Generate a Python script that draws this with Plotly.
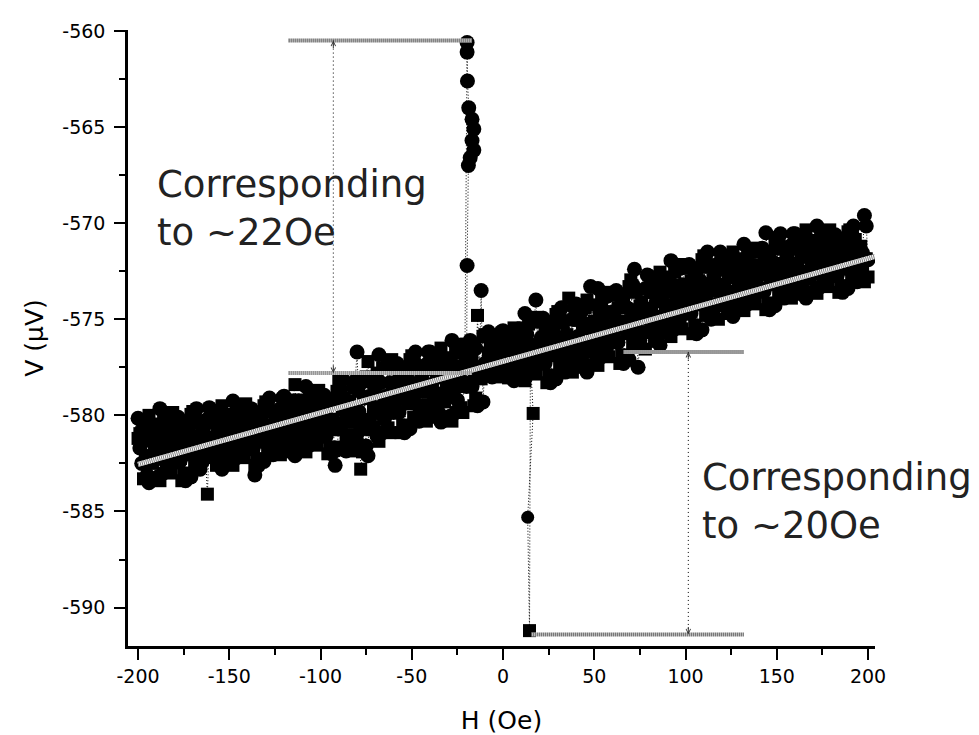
import numpy as np
import plotly.graph_objects as go

# ---------------- data ----------------
# field set points (Oe): even fields and odd fields of each sweep
H_EVEN = np.arange(-200, 201, 2)
H_ODD = np.arange(-199, 200, 2)

# sweep A (circles), readings at even fields (uV)
V_A = [
    -580.15, -582.5, -581.3, -583.5, -580.7,
    -582.0, -579.65, -583.0, -581.4, -580.85,
    -582.45, -580.1, -581.7, -583.4, -580.9,
    -581.9, -579.65, -582.8, -581.3, -580.2,
    -579.7, -581.9, -580.8, -582.8, -580.25,
    -581.35, -579.25, -582.2, -580.85, -580.3,
    -581.75, -579.65, -583.1, -582.6, -580.35,
    -581.2, -579.1, -582.05, -580.7, -579.65,
    -579.0, -581.2, -580.1, -582.1, -579.55,
    -580.65, -578.5, -581.55, -580.1, -579.6,
    -581.1, -578.95, -580.4, -582.0, -582.6,
    -580.65, -578.1, -581.85, -579.95, -578.55,
    -576.7, -580.75, -579.1, -582.1, -578.3,
    -579.7, -576.85, -580.9, -579.0, -578.3,
    -579.85, -577.3, -579.0, -580.9, -578.15,
    -579.25, -576.7, -580.3, -578.6, -577.35,
    -576.7, -579.3, -578.0, -580.35, -577.35,
    -578.75, -576.1, -579.85, -578.1, -577.4,
    -578.5, -576.1, -577.7, -579.5, -573.5,
    -577.3, -575.65, -578.0, -576.9, -576.05,
    -575.6, -577.45, -576.5, -578.2, -576.05,
    -576.9, -574.7, -577.85, -576.35, -574.0,
    -577.3, -574.95, -576.5, -578.3, -575.75,
    -576.75, -574.4, -577.75, -576.2, -575.0,
    -574.2, -576.7, -575.45, -577.75, -573.3,
    -575.9, -573.4, -576.95, -575.3, -574.65,
    -576.2, -573.5, -575.3, -577.3, -574.4,
    -575.4, -572.4, -577.5, -574.75, -573.4,
    -572.75, -575.3, -574.05, -576.35, -573.4,
    -574.4, -571.95, -575.5, -573.8, -573.2,
    -574.7, -572.15, -573.85, -575.75, -573.0,
    -573.95, -571.5, -575.0, -573.35, -572.1,
    -571.7, -573.95, -572.8, -574.85, -572.25,
    -573.3, -571.1, -574.2, -572.75, -572.2,
    -573.55, -571.3, -570.5, -574.5, -572.05,
    -572.9, -570.55, -573.9, -572.3, -571.15,
    -570.55, -572.9, -571.75, -573.9, -571.15,
    -572.4, -570.15, -573.3, -571.8, -571.25,
    -572.7, -570.6, -572.0, -573.6, -571.35,
    -572.2, -570.15, -573.05, -571.7, -569.6,
    -571.9,
]

# sweep A (circles), readings at odd fields (uV)
V_C = [
    -581.7, -580.5, -583.1, -581.1, -582.3,
    -583.2, -580.8, -582.4, -580.05, -581.6,
    -581.1, -582.4, -580.5, -581.9, -583.2,
    -580.0, -581.5, -582.45, -581.1, -579.6,
    -581.15, -580.05, -582.4, -580.6, -581.7,
    -582.4, -580.3, -581.7, -579.6, -581.0,
    -580.5, -581.75, -580.0, -581.2, -582.4,
    -579.5, -580.85, -581.7, -580.5, -579.1,
    -580.45, -579.4, -581.7, -579.9, -581.0,
    -581.75, -579.6, -581.0, -578.85, -580.3,
    -579.85, -581.1, -579.3, -580.55, -581.8,
    -578.65, -580.35, -581.45, -579.95, -578.2,
    -579.8, -578.25, -581.6, -579.0, -580.6,
    -581.1, -578.3, -580.2, -577.3, -579.2,
    -578.35, -579.85, -577.7, -579.2, -580.7,
    -577.15, -578.8, -579.85, -578.4, -576.7,
    -578.4, -577.15, -579.9, -577.8, -579.05,
    -580.05, -577.4, -579.2, -576.55, -578.3,
    -577.1, -578.5, -576.5, -577.9, -579.3,
    -575.9, -577.05, -577.75, -576.75, -575.65,
    -576.8, -575.9, -577.9, -576.4, -577.3,
    -578.05, -575.8, -577.3, -575.05, -576.55,
    -575.95, -577.3, -575.35, -576.7, -578.1,
    -574.8, -576.4, -577.35, -576.0, -574.4,
    -575.9, -574.6, -577.35, -575.25, -576.5,
    -577.2, -574.65, -576.35, -573.8, -575.5,
    -574.6, -576.2, -574.0, -575.5, -577.1,
    -573.2, -575.0, -576.1, -574.5, -572.7,
    -574.45, -573.2, -575.9, -573.8, -575.1,
    -575.7, -573.2, -574.9, -572.35, -574.0,
    -573.2, -574.7, -572.55, -574.05, -575.55,
    -571.9, -573.55, -574.6, -573.15, -571.5,
    -573.2, -572.05, -574.5, -572.6, -573.75,
    -574.4, -572.2, -573.65, -571.45, -572.9,
    -572.25, -573.55, -571.7, -573.0, -574.3,
    -570.95, -572.5, -573.5, -572.1, -570.55,
    -572.1, -570.95, -573.5, -571.5, -572.7,
    -573.5, -571.25, -572.75, -570.5, -572.0,
    -571.5, -572.75, -571.0, -572.2, -573.4,
    -570.5, -571.9, -572.7, -571.55, -570.15,
]

# sweep B (squares), readings at even fields (uV)
V_B = [
    -581.2, -580.9, -582.1, -580.0, -582.5,
    -581.2, -583.4, -580.25, -581.8, -583.0,
    -580.3, -581.5, -583.4, -580.5, -582.05,
    -579.8, -581.15, -582.3, -580.75, -584.1,
    -582.2, -580.4, -581.5, -579.5, -581.9,
    -580.65, -582.6, -579.8, -581.2, -582.2,
    -579.85, -580.9, -582.6, -580.0, -581.4,
    -579.3, -580.5, -581.55, -580.15, -582.05,
    -581.5, -579.75, -580.8, -578.4, -581.2,
    -579.95, -581.9, -579.05, -580.5, -581.55,
    -579.1, -580.2, -582.0, -579.3, -580.75,
    -578.2, -579.7, -581.1, -579.25, -581.85,
    -581.3, -582.8, -580.2, -577.2, -580.75,
    -578.75, -581.35, -577.55, -579.45, -580.9,
    -577.5, -578.8, -580.9, -577.7, -579.4,
    -576.9, -578.4, -579.65, -577.95, -580.3,
    -579.7, -577.6, -578.85, -576.5, -579.3,
    -577.85, -580.3, -576.75, -578.5, -579.85,
    -576.3, -577.5, -579.5, -574.8, -578.1,
    -575.8, -576.75, -577.6, -576.5, -578.0,
    -577.75, -576.2, -577.1, -575.45, -577.45,
    -576.2, -578.2, -575.25, -576.75, -577.85,
    -575.15, -576.3, -578.3, -575.35, -576.9,
    -574.6, -576.0, -577.15, -573.9, -577.75,
    -577.1, -575.05, -576.3, -574.0, -576.7,
    -575.1, -577.4, -574.05, -575.7, -576.95,
    -573.75, -575.1, -577.3, -573.95, -575.75,
    -572.95, -574.5, -575.9, -574.1, -576.55,
    -575.7, -573.6, -574.85, -572.55, -575.3,
    -573.6, -575.9, -572.55, -574.25, -575.5,
    -572.35, -573.6, -575.75, -572.55, -574.25,
    -571.7, -573.15, -574.4, -572.75, -575.0,
    -574.3, -572.45, -573.55, -571.5, -573.95,
    -572.55, -574.55, -571.65, -573.1, -574.2,
    -571.5, -572.6, -574.5, -571.7, -573.2,
    -570.75, -572.1, -573.3, -571.75, -573.9,
    -573.3, -571.35, -572.5, -570.35, -572.9,
    -571.6, -573.65, -570.7, -572.2, -573.3,
    -570.8, -571.85, -573.6, -570.95, -572.4,
    -570.35, -571.55, -572.55, -571.2, -573.05,
    -572.8,
]

# sweep B (squares), readings at odd fields (uV)
V_D = [
    -580.95, -583.3, -580.35, -582.1, -581.5,
    -580.45, -582.2, -581.6, -582.8, -579.85,
    -582.25, -580.9, -583.0, -581.5, -579.95,
    -582.65, -580.4, -580.95, -582.1, -581.5,
    -580.4, -582.6, -579.9, -581.5, -581.0,
    -579.95, -581.5, -581.0, -582.05, -579.4,
    -581.55, -580.35, -582.25, -580.9, -579.5,
    -581.9, -579.8, -580.35, -581.35, -580.85,
    -579.75, -581.9, -579.2, -580.8, -580.3,
    -579.2, -580.85, -580.3, -581.4, -578.7,
    -580.9, -579.65, -581.65, -580.2, -578.75,
    -581.65, -579.1, -579.7, -581.0, -580.35,
    -578.75, -581.9, -578.0, -580.3, -579.55,
    -577.8, -579.9, -579.2, -580.65, -577.1,
    -579.6, -578.15, -580.5, -578.8, -577.1,
    -580.1, -577.55, -578.2, -579.45, -578.8,
    -577.6, -580.1, -576.95, -578.85, -578.2,
    -577.0, -578.95, -578.3, -579.6, -576.3,
    -578.3, -576.9, -579.1, -577.5, -575.9,
    -577.9, -576.2, -576.6, -577.45, -577.05,
    -576.2, -578.05, -575.75, -577.1, -576.7,
    -575.45, -577.1, -576.55, -577.65, -574.9,
    -577.1, -575.75, -577.9, -576.3, -574.75,
    -577.55, -575.2, -575.8, -576.95, -576.4,
    -575.05, -577.5, -574.4, -576.3, -575.65,
    -574.25, -576.15, -575.5, -576.75, -573.6,
    -575.95, -574.4, -576.85, -575.1, -573.3,
    -576.3, -573.6, -574.3, -575.65, -575.0,
    -573.6, -576.15, -573.0, -574.85, -574.25,
    -572.8, -574.65, -574.0, -575.25, -572.15,
    -574.5, -573.0, -575.3, -573.6, -571.9,
    -574.8, -572.3, -572.95, -574.2, -573.55,
    -572.4, -574.7, -571.85, -573.55, -573.0,
    -571.85, -573.5, -572.95, -574.0, -571.3,
    -573.4, -572.05, -574.15, -572.6, -571.1,
    -573.7, -571.35, -571.9, -573.1, -572.5,
    -571.35, -573.7, -570.75, -572.5, -571.9,
    -570.9, -572.55, -572.0, -573.1, -570.35,
    -572.55, -571.3, -573.25, -571.85, -570.45,
    -572.9, -570.85, -571.35, -572.4, -571.85,
]

# switching spikes
SPIKE_UP_H = [-19.7, -19.7, -19.5, -18.8, -17.0, -16.0, -17.0, -16.0, -18.0, -19.0, -19.7]
SPIKE_UP_V = [-560.6, -561.1, -562.6, -564.0, -564.6, -565.1, -565.7, -566.2, -566.6, -567.0, -572.2]
SPIKE_UP_AT = -20         # inserted before this field in sweep A
SPIKE_DN_H = [16.5, 13.5, 14.5]
SPIKE_DN_V = [-579.9, -585.3, -591.2]
SPIKE_DN_AT = 14          # inserted after this field in sweep B
SPIKE_DN_ROUND = -585.3   # this reading is drawn as a circle

# linear background fit
FIT_H = [-200, 207]
FIT_V = [-582.55, -571.65]

# annotation guides
G22_H = [-117.5, -17.0]
G22_TOP = -560.5
G22_BOT = -577.8
G22_DIM_H = -93.0
G20_TOP_H = [66.0, 132.0]
G20_BOT_H = [15.5, 132.0]
G20_TOP = -576.7
G20_BOT = -591.4
G20_DIM_H = 101.5
TEXT22 = ("Corresponding<br>to ~22Oe", -190.5, -569.25)
TEXT20 = ("Corresponding<br>to ~20Oe", 108.0, -584.5)

X_TICKS = [-200, -150, -100, -50, 0, 50, 100, 150, 200]
Y_TICKS = [-560, -565, -570, -575, -580, -585, -590]

# ---------------- assemble sweeps ----------------
def merge(h1, v1, h2, v2):
    h = np.concatenate([h1, h2]).astype(float)
    v = np.concatenate([np.array(v1), np.array(v2)])
    order = np.argsort(h, kind='stable')
    return h[order], v[order]

HA, VA = merge(H_EVEN, V_A, H_ODD, V_C)
kA = int(np.searchsorted(HA, SPIKE_UP_AT))
HA = np.concatenate([HA[:kA], SPIKE_UP_H, HA[kA:]])
VA = np.concatenate([VA[:kA], SPIKE_UP_V, VA[kA:]])

HB, VB = merge(H_EVEN, V_B, H_ODD, V_D)
kB = int(np.searchsorted(HB, SPIKE_DN_AT, side='right'))
HB = np.concatenate([HB[:kB], SPIKE_DN_H, HB[kB:]])
VB = np.concatenate([VB[:kB], SPIKE_DN_V, VB[kB:]])
symB = ['circle' if v == SPIKE_DN_ROUND else 'square' for v in VB]

fig = go.Figure()

dotted = '1px,2px'
fig.add_trace(go.Scatter(x=HB, y=VB, mode='lines+markers',
                         line=dict(color='black', width=1, dash=dotted),
                         marker=dict(symbol=symB, size=13, color='black', opacity=1),
                         hoverinfo='skip'))
fig.add_trace(go.Scatter(x=HA, y=VA, mode='lines+markers',
                         line=dict(color='black', width=1, dash=dotted),
                         marker=dict(symbol='circle', size=15, color='black', opacity=1),
                         hoverinfo='skip'))

def hatched(xs, ys, width, dark):
    fig.add_trace(go.Scatter(x=xs, y=ys, mode='lines', line=dict(color='white', width=width),
                             hoverinfo='skip'))
    fig.add_trace(go.Scatter(x=xs, y=ys, mode='lines', line=dict(color=dark, width=width, dash='1px,1px'),
                             hoverinfo='skip'))

hatched(FIT_H, FIT_V, 5, '#808080')
hatched(G22_H, [G22_TOP, G22_TOP], 4, '#333333')
hatched(G22_H, [G22_BOT, G22_BOT], 4, '#555555')
hatched(G20_TOP_H, [G20_TOP, G20_TOP], 4, '#333333')
hatched(G20_BOT_H, [G20_BOT, G20_BOT], 4, '#333333')

for xd, y0, y1 in [(G22_DIM_H, G22_TOP, G22_BOT), (G20_DIM_H, G20_TOP, G20_BOT)]:
    fig.add_trace(go.Scatter(x=[xd, xd], y=[y0, y1], mode='lines',
                             line=dict(color='black', width=1, dash='1px,3px'), hoverinfo='skip'))
    fig.add_annotation(x=xd, y=y0, ax=0, ay=9, text='', showarrow=True, arrowhead=5,
                       arrowsize=0.9, arrowwidth=1, arrowcolor='#333')
    fig.add_annotation(x=xd, y=y1, ax=0, ay=-9, text='', showarrow=True, arrowhead=5,
                       arrowsize=0.9, arrowwidth=1, arrowcolor='#333')

for txt, tx, ty in [TEXT22, TEXT20]:
    fig.add_annotation(x=tx, y=ty, text=txt, showarrow=False, xanchor='left', yanchor='middle',
                       align='left', font=dict(family='DejaVu Sans', size=37, color='#222'))

axis_common = dict(showline=True, linewidth=2.5, linecolor='black', mirror=False,
                   ticks='outside', ticklen=11, tickwidth=2, tickcolor='black',
                   showgrid=False, zeroline=False, automargin=False,
                   tickfont=dict(family='DejaVu Sans', size=19, color='black'))

fig.update_xaxes(range=[-205.5, 203.8], tickmode='array', tickvals=X_TICKS,
                 ticktext=[str(v) for v in X_TICKS],
                 minor=dict(tickmode='linear', tick0=-175, dtick=50, ticks='outside',
                            ticklen=6, tickwidth=1.5, tickcolor='black'),
                 title=dict(text='H (Oe)', font=dict(family='DejaVu Sans', size=25, color='black'),
                            standoff=30),
                 **axis_common)
fig.update_yaxes(range=[-592, -559.95], tickmode='array', tickvals=Y_TICKS,
                 ticktext=[str(v) for v in Y_TICKS], ticklabelstandoff=5,
                 minor=dict(tickmode='linear', tick0=-562.5, dtick=5, ticks='outside',
                            ticklen=6, tickwidth=1.5, tickcolor='black'),
                 title=dict(text='V (μV)', font=dict(family='DejaVu Sans', size=25, color='black'),
                            standoff=12),
                 **axis_common)

fig.update_layout(width=979, height=735, margin=dict(l=128, r=104, t=30, b=89, autoexpand=False),
                  showlegend=False, plot_bgcolor='white', paper_bgcolor='white',
                  font=dict(family='DejaVu Sans', color='black'))

fig.write_html("out.html", config={'displayModeBar': False},
               post_script="document.body.style.margin='0px';")
